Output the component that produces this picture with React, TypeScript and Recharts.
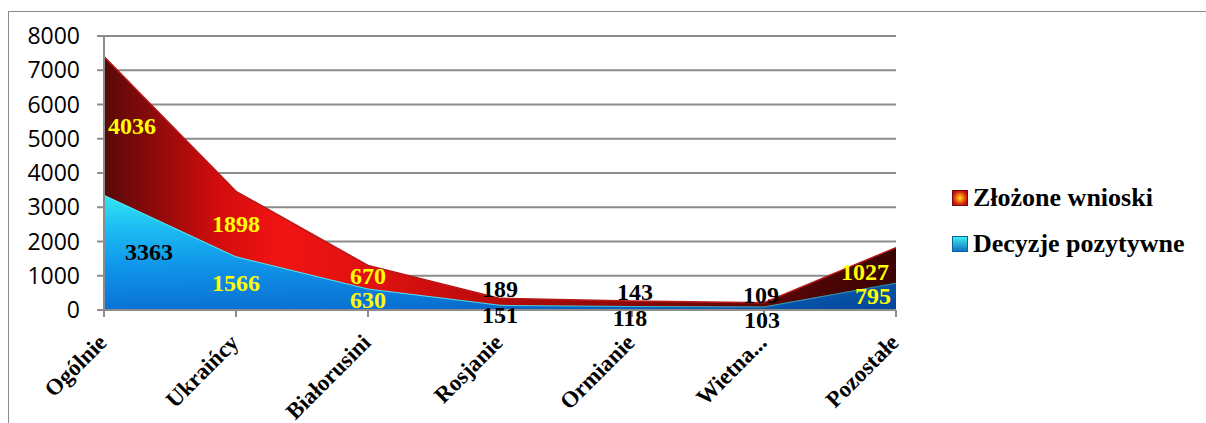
import {
  ComposedChart,
  Area,
  Line,
  XAxis,
  YAxis,
  CartesianGrid,
  Legend,
  LabelList,
} from "recharts";

const categories = [
  "Ogólnie",
  "Ukraińcy",
  "Białorusini",
  "Rosjanie",
  "Ormianie",
  "Wietna...",
  "Pozostałe",
];
const zlozoneWnioski = [4036, 1898, 670, 189, 143, 109, 1027];
const decyzjePozytywne = [3363, 1566, 630, 151, 118, 103, 795];
const yTicks = [0, 1000, 2000, 3000, 4000, 5000, 6000, 7000, 8000];

const SERIES_RED = "Złożone wnioski";
const SERIES_BLUE = "Decyzje pozytywne";

const data = categories.map((name, i) => ({
  name,
  wnioski: zlozoneWnioski[i],
  pozytywne: decyzjePozytywne[i],
}));

// label placement tweaks (Excel nudges labels at the ends and on thin bands)
const redColors = ["#ffff00", "#ffff00", "#ffff00", "#000", "#000", "#000", "#ffff00"];
const blueColors = ["#000", "#ffff00", "#ffff00", "#000", "#000", "#000", "#ffff00"];
const redDx = [28, 0, 0, 0, 3, -3, -31];
const redDy = [0, 0, -1, -13, -12, -10, 7];
const blueDx = [45, 0, 0, 0, -2, -2, -23];
const blueDy = [0, 0, 1, 8, 10, 12, 0];

const serif = "Liberation Serif";
const grid = "#8c8c8c";

const bandLabel =
  (values: number[], colors: string[], dxs: number[], dys: number[]) =>
  (props: any) => {
    const { x, y, index } = props;
    return (
      <text
        x={x + dxs[index]}
        y={y + dys[index]}
        textAnchor="middle"
        dominantBaseline="central"
        fontFamily={serif}
        fontWeight="bold"
        fontSize={24}
        fill={colors[index]}
      >
        {values[index]}
      </text>
    );
  };

const XTick = ({ x, y, payload }: any) => {
  const ax = x + 4;
  const ay = y + 25;
  return (
    <text
      x={ax}
      y={ay}
      transform={`rotate(-45 ${ax} ${ay})`}
      textAnchor="end"
      fontFamily={serif}
      fontWeight="bold"
      fontSize={23}
      fill="#000"
    >
      {payload.value}
    </text>
  );
};

const LegendBox = ({ payload }: any) => {
  const items = [...(payload || [])]
    .filter((p: any) => p.value === SERIES_RED || p.value === SERIES_BLUE)
    .sort((a: any) => (a.value === SERIES_RED ? -1 : 1));
  return (
    <div>
      {items.map((p: any) => {
        const red = p.value === SERIES_RED;
        return (
          <div
            key={p.value}
            style={{ display: "flex", alignItems: "center", height: 46 }}
          >
            <svg width={16} height={16} style={{ marginRight: 5 }}>
              <rect
                x={0.5}
                y={0.5}
                width={15}
                height={15}
                fill={red ? "url(#legRed)" : "url(#legBlue)"}
                stroke={red ? "#7a0a0a" : "#1060a8"}
              />
            </svg>
            <span
              style={{
                fontFamily: serif,
                fontWeight: "bold",
                fontSize: 26,
                color: "#000",
                whiteSpace: "nowrap",
              }}
            >
              {p.value}
            </span>
          </div>
        );
      })}
    </div>
  );
};

export default function App() {
  return (
    <div
      style={{
        position: "fixed",
        left: 0,
        top: 0,
        width: 1206,
        height: 423,
        overflow: "hidden",
        background: "#fff",
      }}
    >
      <div
        style={{
          position: "absolute",
          left: 8,
          top: 11,
          width: 1300,
          height: 500,
          border: "1.5px solid #8c8c8c",
        }}
      />
      <div style={{ position: "absolute", left: 0, top: 0 }}>
        <ComposedChart
          width={1206}
          height={423}
          data={data}
          margin={{ top: 36, right: 310, bottom: 0, left: 0 }}
        >
          <defs>
            <linearGradient id="redFill" x1="0" y1="0" x2="1" y2="0">
              <stop offset="0" stopColor="#580909" />
              <stop offset="0.06" stopColor="#8a0a0a" />
              <stop offset="0.14" stopColor="#d00c0c" />
              <stop offset="0.22" stopColor="#f21414" />
              <stop offset="0.36" stopColor="#dc1010" />
              <stop offset="0.52" stopColor="#b00a0a" />
              <stop offset="0.72" stopColor="#7c0707" />
              <stop offset="0.86" stopColor="#560505" />
              <stop offset="1" stopColor="#3a0404" />
            </linearGradient>
            <linearGradient id="blueFill" x1="0" y1="0" x2="0" y2="1">
              <stop offset="0" stopColor="#34e6f2" />
              <stop offset="0.3" stopColor="#1cbcf2" />
              <stop offset="0.6" stopColor="#1098ec" />
              <stop offset="1" stopColor="#0a72d6" />
            </linearGradient>
            <linearGradient id="blueShade" x1="0" y1="0" x2="1" y2="0">
              <stop offset="0" stopColor="#001a60" stopOpacity={0} />
              <stop offset="0.4" stopColor="#001a60" stopOpacity={0.05} />
              <stop offset="0.75" stopColor="#001a60" stopOpacity={0.3} />
              <stop offset="1" stopColor="#001a60" stopOpacity={0.5} />
            </linearGradient>
            <radialGradient id="legRed">
              <stop offset="0" stopColor="#ffe020" />
              <stop offset="0.5" stopColor="#f07010" />
              <stop offset="1" stopColor="#c01010" />
            </radialGradient>
            <linearGradient id="legBlue" x1="0" y1="0" x2="0" y2="1">
              <stop offset="0" stopColor="#40f0f0" />
              <stop offset="1" stopColor="#1070c0" />
            </linearGradient>
          </defs>
          <CartesianGrid vertical={false} stroke={grid} strokeWidth={2} />
          <XAxis
            dataKey="name"
            height={113}
            interval={0}
            tickSize={7}
            tick={<XTick />}
            axisLine={{ stroke: grid, strokeWidth: 2 }}
            tickLine={{ stroke: grid, strokeWidth: 2 }}
          />
          <YAxis
            width={104}
            domain={[0, 8000]}
            ticks={yTicks}
            interval={0}
            tickSize={7}
            tickMargin={17}
            axisLine={{ stroke: grid, strokeWidth: 2 }}
            tickLine={{ stroke: grid, strokeWidth: 2 }}
            tick={{
              fill: "#000",
              fontSize: 23,
              fontFamily: "'Open Sans', sans-serif",
            }}
          />
          <Area
            type="linear"
            dataKey="pozytywne"
            name={SERIES_BLUE}
            stackId="a"
            fill="url(#blueFill)"
            fillOpacity={1}
            stroke="#50eef6"
            strokeWidth={2}
            isAnimationActive={false}
          />
          <Area
            type="linear"
            dataKey="pozytywne"
            stackId="shade"
            fill="url(#blueShade)"
            fillOpacity={1}
            stroke="none"
            legendType="none"
            isAnimationActive={false}
          />
          <Area
            type="linear"
            dataKey="wnioski"
            name={SERIES_RED}
            stackId="a"
            fill="url(#redFill)"
            fillOpacity={1}
            stroke="#b81818"
            strokeWidth={1.5}
            isAnimationActive={false}
          />
          <Line
            dataKey={(d: any) => d.pozytywne / 2}
            stroke="none"
            dot={false}
            activeDot={false}
            legendType="none"
            isAnimationActive={false}
          >
            <LabelList
              content={bandLabel(decyzjePozytywne, blueColors, blueDx, blueDy)}
            />
          </Line>
          <Line
            dataKey={(d: any) => d.pozytywne + d.wnioski / 2}
            stroke="none"
            dot={false}
            activeDot={false}
            legendType="none"
            isAnimationActive={false}
          >
            <LabelList
              content={bandLabel(zlozoneWnioski, redColors, redDx, redDy)}
            />
          </Line>
          <Legend
            layout="horizontal"
            verticalAlign="middle"
            align="center"
            content={<LegendBox />}
            wrapperStyle={{ left: 952, top: 175, width: 254 }}
          />
        </ComposedChart>
      </div>
    </div>
  );
}
